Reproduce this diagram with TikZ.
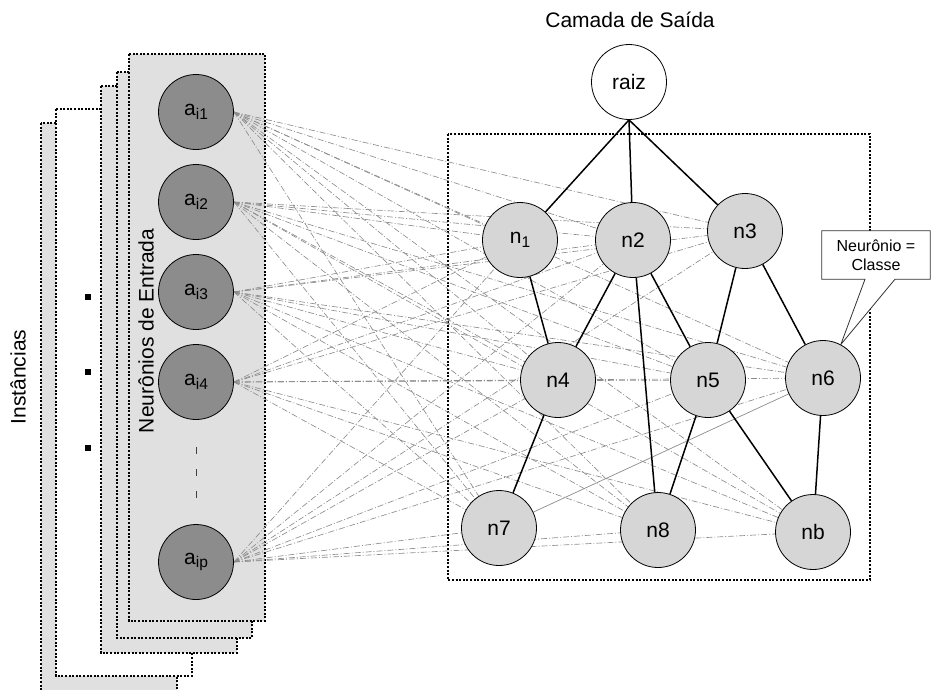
\documentclass[tikz,border=0pt]{standalone}
\usepackage{fontspec}
\setmainfont{Liberation Sans}
\usetikzlibrary{positioning}
\pgfdeclarelayer{back}
\pgfdeclarelayer{wires}
\pgfsetlayers{back,wires,main}
\definecolor{panelgray}{RGB}{224,224,224}
\definecolor{ingray}{RGB}{140,140,140}
\definecolor{outgray}{RGB}{214,214,214}
\definecolor{linkgray}{RGB}{140,140,140}
\newcommand{\lowsub}[1]{\raisebox{-0.3ex}{\fontsize{15.5}{15.5}\selectfont #1}}

\begin{document}
\begin{tikzpicture}[x=1pt, y=-1pt, node distance=90pt,
	font=\fontsize{21}{25}\selectfont,
	inneuron/.style={circle, draw, line width=0.8pt, fill=ingray, minimum size=75pt, inner sep=0pt},
	outneuron/.style={circle, draw, line width=0.8pt, fill=outgray, minimum size=75pt, inner sep=0pt},
	panel/.style={draw, line width=1.2pt, dash pattern=on 2pt off 1.6pt},
	link/.style={linkgray, line width=0.65pt, dash pattern=on 6pt off 2pt on 1pt off 2pt},
	tree/.style={line width=1.5pt}]
		\useasboundingbox (0,0) rectangle (933,689);

		% camada de entrada
		\node (a1) [inneuron] at (196,112) {a\lowsub{i1}};
		\node (a2) [inneuron, below of=a1] {a\lowsub{i2}};
		\node (a3) [inneuron, below of=a2] {a\lowsub{i3}};
		\node (a4) [inneuron, below of=a3] {a\lowsub{i4}};
		\node (ap) [inneuron] at (196,562) {a\lowsub{ip}};
		\draw[darkgray, line width=1pt, dash pattern=on 7pt off 15pt] (196,447) -- (196,500);
		\foreach \y in {297,372,448}
			\fill (85,\y-3) rectangle +(6,6);

		\node (inst) [rotate=90] at (18,377) {Instâncias};
		\node (entrada) [rotate=90] at (146,331) {Neurônios de Entrada};

		% camada de saida
		\node (title) at (630,20) {Camada de Saída};
		\node (raiz) [circle, draw, line width=0.8pt, fill=white, minimum size=75pt, inner sep=0pt] at (629,82) {raiz};
		\node (n1) [outneuron] at (520,240) {n\lowsub{1}};
		\node (n2) [outneuron] at (633,240) {n2};
		\node (n3) [outneuron] at (745,231) {n3};
		\node (n4) [outneuron] at (558,380) {n4};
		\node (n5) [outneuron] at (708,380) {n5};
		\node (n6) [outneuron] at (823,378) {n6};
		\node (n7) [outneuron] at (499,528) {n7};
		\node (n8) [outneuron] at (658,530) {n8};
		\node (nb) [outneuron] at (813,532) {nb};

		\foreach \n in {n1,n2,n3}
			\draw[tree] (raiz.south) -- (\n);
		\foreach \s/\t in {n1/n4, n2/n4, n2/n5, n2/n8, n3/n5, n3/n6, n4/n7, n5/n8, n5/nb, n6/nb}
			\draw[tree] (\s) -- (\t);

		\node (callout) [minimum width=108pt, minimum height=48pt, align=center,
			font=\fontsize{16}{19}\selectfont] at (876,255) {Neurônio =\\Classe};

		\begin{pgfonlayer}{back}
			% pilha de instancias
			\filldraw[panel, fill=panelgray] (41,123) rectangle (177,700);
			\filldraw[panel, fill=white] (56,109) rectangle (192,676);
			\filldraw[panel, fill=panelgray] (101,86) rectangle (237,653);
			\filldraw[panel, fill=panelgray] (117,72) rectangle (252,638);
			\filldraw[panel, fill=panelgray] (129,54) rectangle (265,621);
			\draw[panel] (448,134) rectangle (870,580);
		\end{pgfonlayer}

		\begin{pgfonlayer}{wires}
			\foreach \a in {a1,a2,a3,a4,ap}
				\foreach \n in {n1,n2,n3,n4,n5,n6,n7,n8,nb}
					\draw[link] (\a.east) -- (\n);
			\draw[linkgray, line width=0.7pt] (n7) -- (n6);
			\draw[fill=white, draw=black!80, line width=0.8pt] (callout.north west) -- (callout.north east)
				-- (callout.south east) -- ([xshift=19pt]callout.south) -- (n6.62)
				-- ([xshift=-11pt]callout.south) -- (callout.south west) -- cycle;
		\end{pgfonlayer}

	\end{tikzpicture}
\end{document}
